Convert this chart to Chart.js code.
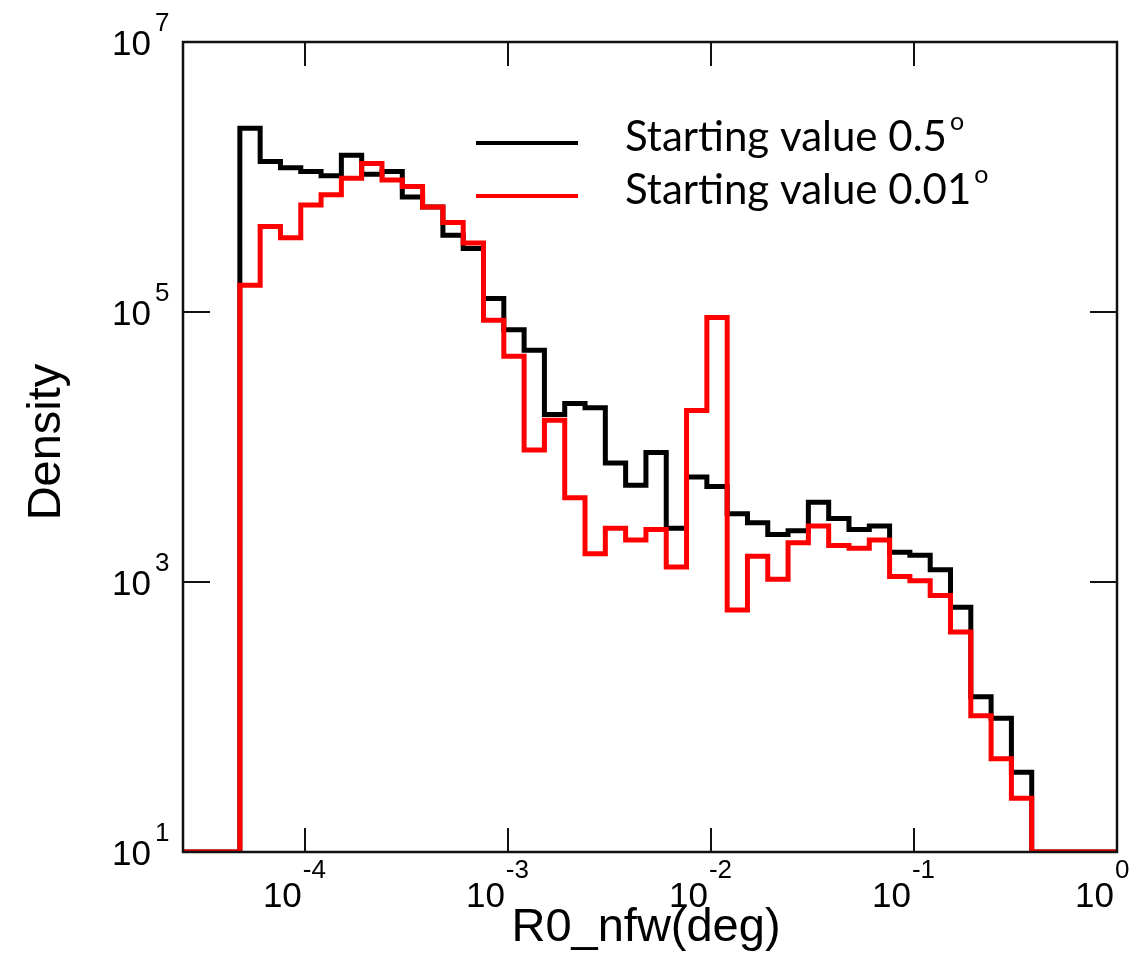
<!DOCTYPE html>
<html>
<head>
<meta charset="utf-8">
<script src="https://cdn.jsdelivr.net/npm/chart.js@4.4.1/dist/chart.umd.min.js"></script>
<style>
  html, body { margin: 0; padding: 0; background: #ffffff; }
</style>
</head>
<body>
<canvas id="chR0" width="1146" height="958"></canvas>
<script>
// R0_nfw histogram, log10 bin edges (deg)
var binEdges = [-4.32, -4.22, -4.12, -4.02, -3.92, -3.82, -3.72, -3.62, -3.52, -3.42,
                -3.32, -3.22, -3.12, -3.02, -2.92, -2.82, -2.72, -2.62, -2.52, -2.42,
                -2.32, -2.22, -2.12, -2.02, -1.92, -1.82, -1.72, -1.62, -1.52, -1.42,
                -1.32, -1.22, -1.12, -1.02, -0.92, -0.82, -0.72, -0.62, -0.52, -0.42];

// density per bin, starting value 0.5 deg
var densStart05 = [2.3e6, 1.3e6, 1.17e6, 1.1e6, 1.02e6, 1.45e6, 1.05e6, 1.1e6, 7.1e5, 6.0e5,
                   3.7e5, 2.95e5, 1.26e5, 7.4e4, 5.2e4, 1.74e4, 2.1e4, 1.95e4, 7.6e3, 5.2e3,
                   9.1e3, 2.5e3, 6.0e3, 5.1e3, 3.2e3, 2.75e3, 2.25e3, 2.4e3, 3.9e3, 2.95e3,
                   2.45e3, 2.6e3, 1.66e3, 1.58e3, 1.23e3, 650, 141, 98, 39];

// density per bin, starting value 0.01 deg
var densStart001 = [1.58e5, 4.3e5, 3.55e5, 6.2e5, 7.4e5, 9.8e5, 1.26e6, 9.5e5, 8.5e5, 6.0e5,
                    4.6e5, 3.25e5, 8.7e4, 4.7e4, 9.5e3, 1.58e4, 4.2e3, 1.62e3, 2.5e3, 2.05e3,
                    2.45e3, 1.29e3, 1.86e4, 9.1e4, 620, 1.55e3, 1.05e3, 1.95e3, 2.6e3, 1.86e3,
                    1.78e3, 2.05e3, 1.1e3, 1.02e3, 795, 427, 102, 49, 25];

var seriesNames = ['Starting value 0.5', 'Starting value 0.01'];
var xTicks = [1e-4, 1e-3, 1e-2, 1e-1, 1];
var yTicks = [1e1, 1e3, 1e5, 1e7];
var xLogRange = [-4.6, 0];
var yFloor = 10;

// step outline of one histogram, empty bins sit on the floor
function histPoints(vals) {
  var pts = [{x: Math.pow(10, xLogRange[0]), y: yFloor}];
  vals.forEach(function (v, i) {
    pts.push({x: Math.pow(10, binEdges[i]), y: v});
  });
  pts.push({x: Math.pow(10, binEdges[vals.length]), y: yFloor});
  pts.push({x: Math.pow(10, xLogRange[1]), y: yFloor});
  return pts;
}

var tickFont = '"Liberation Sans", Arial, sans-serif';
var legendFont = 'Lato, "Open Sans", sans-serif';

// frame, inward ticks, 10^n labels, axis titles and legend
var framePlugin = {
  id: 'frameAndLabels',
  afterDatasetsDraw: function (chart) {
    var ctx = chart.ctx, a = chart.chartArea;
    var xs = chart.scales.x, ys = chart.scales.y;
    ctx.save();
    ctx.strokeStyle = '#111';
    ctx.lineWidth = 2.5;
    ctx.strokeRect(a.left, a.top, a.right - a.left, a.bottom - a.top);

    ctx.lineWidth = 2;
    ctx.beginPath();
    xTicks.forEach(function (v) {
      var px = Math.round(xs.getPixelForValue(v));
      ctx.moveTo(px, a.bottom); ctx.lineTo(px, a.bottom - 24);
      ctx.moveTo(px, a.top); ctx.lineTo(px, a.top + 24);
    });
    yTicks.forEach(function (v) {
      var py = Math.round(ys.getPixelForValue(v));
      ctx.moveTo(a.left, py); ctx.lineTo(a.left + 27, py);
      ctx.moveTo(a.right, py); ctx.lineTo(a.right - 27, py);
    });
    ctx.stroke();

    ctx.fillStyle = '#000';
    ctx.textBaseline = 'middle';
    yTicks.forEach(function (v) {
      var py = ys.getPixelForValue(v);
      var e = Math.round(Math.log10(v));
      ctx.font = '35px ' + tickFont;
      ctx.textAlign = 'right';
      ctx.fillText('10', 151, py + 3);
      ctx.font = '26px ' + tickFont;
      ctx.textAlign = 'left';
      ctx.fillText(String(e), 155, py - 18);
    });
    xTicks.forEach(function (v) {
      var px = xs.getPixelForValue(v);
      var e = Math.round(Math.log10(v));
      ctx.font = '35px ' + tickFont;
      ctx.textAlign = 'right';
      ctx.fillText('10', px - 3, a.bottom + 45);
      ctx.font = '26px ' + tickFont;
      ctx.textAlign = 'left';
      ctx.fillText(String(e), px - 2, a.bottom + 19);
    });

    // axis titles
    ctx.font = '47px ' + tickFont;
    ctx.textAlign = 'center';
    ctx.fillText('R0_nfw(deg)', 646, 928);
    ctx.save();
    ctx.translate(47, 442);
    ctx.rotate(-Math.PI / 2);
    ctx.fillText('Density', 0, 0);
    ctx.restore();

    // legend
    var rows = [{y: 143, color: '#000000'}, {y: 196, color: '#ff0000'}];
    rows.forEach(function (r, i) {
      ctx.strokeStyle = r.color;
      ctx.lineWidth = 4;
      ctx.beginPath();
      ctx.moveTo(476, r.y); ctx.lineTo(578, r.y);
      ctx.stroke();
      ctx.font = '42px ' + legendFont;
      ctx.textAlign = 'left';
      ctx.textBaseline = 'alphabetic';
      ctx.fillStyle = '#000';
      ctx.fillText(seriesNames[i], 625, r.y + 8);
      var w = ctx.measureText(seriesNames[i]).width;
      ctx.font = '25px ' + legendFont;
      ctx.fillText('o', 625 + w + 3, r.y - 13);
    });
    ctx.restore();
  }
};

var chR0 = document.getElementById('chR0');
new Chart(chR0, {
  type: 'line',
  data: {
    datasets: [
      {
        label: seriesNames[0],
        data: histPoints(densStart05),
        borderColor: '#000000',
        borderWidth: 5,
        stepped: true,
        pointRadius: 0,
        borderJoinStyle: 'miter',
        fill: false,
        order: 2
      },
      {
        label: seriesNames[1],
        data: histPoints(densStart001),
        borderColor: '#ff0000',
        borderWidth: 5,
        stepped: true,
        pointRadius: 0,
        borderJoinStyle: 'miter',
        fill: false,
        order: 1
      }
    ]
  },
  options: {
    responsive: false,
    animation: false,
    devicePixelRatio: 1,
    layout: {padding: {left: 183, top: 42, right: 29, bottom: 106}},
    plugins: {legend: {display: false}, tooltip: {enabled: false}},
    scales: {
      x: {type: 'logarithmic', display: false,
          min: Math.pow(10, xLogRange[0]), max: Math.pow(10, xLogRange[1])},
      y: {type: 'logarithmic', display: false, min: yTicks[0], max: yTicks[yTicks.length - 1]}
    }
  },
  plugins: [framePlugin]
});
</script>
</body>
</html>
